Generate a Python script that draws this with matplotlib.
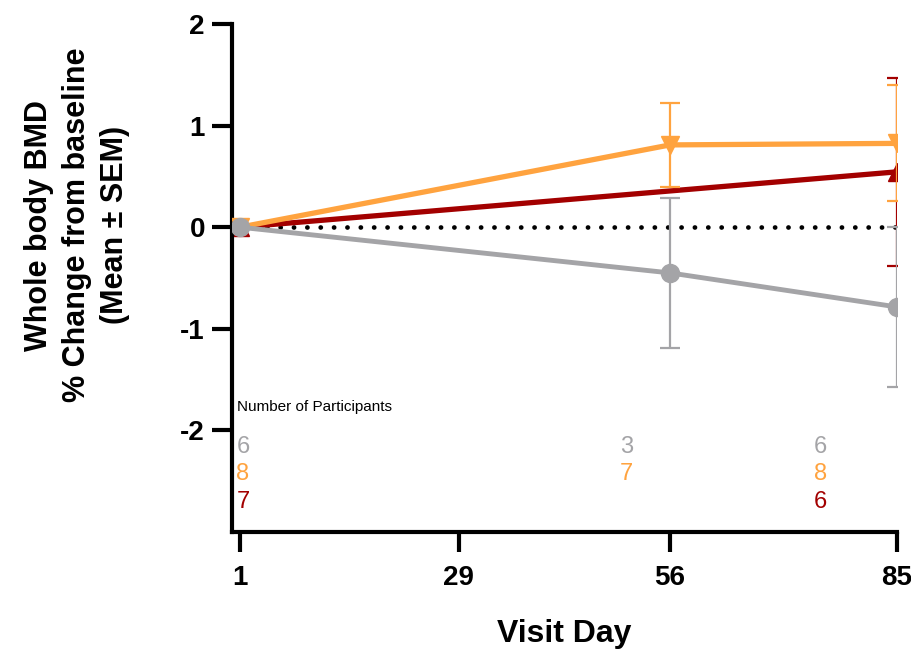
import matplotlib
matplotlib.use("Agg")
import matplotlib.pyplot as plt

plt.rcParams['font.family'] = ['Liberation Sans', 'DejaVu Sans']
plt.rcParams['axes.unicode_minus'] = False

# visit days and series (mean % change, SEM)
days = [1, 56, 85]
gray_mean = [0.0, -0.45, -0.785]
gray_sem = [0.0, 0.735, 0.785]
orange_mean = [0.0, 0.81, 0.825]
orange_sem = [0.0, 0.41, 0.57]
red_days = [1, 85]
red_mean = [0.0, 0.545]
red_sem = [0.0, 0.925]

# number of participants per visit (gray, orange, red)
n_gray = ['6', '3', '6']
n_orange = ['8', '7', '8']
n_red = ['7', '', '6']
n_xpos = [1.4, 50.4, 75.2]   # where the count columns sit (day units)

xticks = [1, 29, 56, 85]
yticks = [-2, -1, 0, 1, 2]

c_gray = '#A4A4A7'
c_orange = '#FFA33F'
c_red = '#A30000'

fig = plt.figure(figsize=(9.12, 6.54), dpi=100)
ax = fig.add_axes([232/912, 1-532/654, (897-232)/912, (532-24)/654])

# zero reference line, dots about 13 px apart
zl, = ax.plot([1, 85], [0, 0], color='black', lw=3.4, dash_capstyle='round', zorder=1)
zl.set_dashes([0.03, 2.8])

ax.errorbar(red_days, red_mean, yerr=red_sem, color=c_red, lw=3.8,
            marker='^', ms=13, elinewidth=1.6, capsize=7, capthick=1.6, zorder=2)
ax.errorbar(days, orange_mean, yerr=orange_sem, color=c_orange, lw=3.8,
            marker='v', ms=13, elinewidth=1.6, capsize=7, capthick=1.6, zorder=3)
ax.errorbar(days, gray_mean, yerr=gray_sem, color=c_gray, lw=3.5,
            marker='o', ms=13, elinewidth=1.6, capsize=7, capthick=1.6, zorder=4)

# participant counts
ax.text(0.6, -1.77, 'Number of Participants', fontsize=11, ha='left', va='center')
for col, (g, o, r) in enumerate(zip(n_gray, n_orange, n_red)):
    x = n_xpos[col]
    ax.text(x, -2.16, g, color=c_gray, fontsize=17, ha='center', va='center')
    ax.text(x, -2.43, o, color=c_orange, fontsize=17, ha='center', va='center')
    ax.text(x, -2.70, r, color=c_red, fontsize=17, ha='center', va='center')

ax.set_xlim(0, 85)
ax.set_ylim(-3, 2)
ax.set_xticks(xticks)
ax.set_yticks(yticks)

for s in ['top', 'right']:
    ax.spines[s].set_visible(False)
for s in ['left', 'bottom']:
    ax.spines[s].set_linewidth(3)

ax.tick_params(axis='both', direction='out', length=14.5, width=3)
ax.tick_params(axis='x', labelsize=20, pad=9)
ax.tick_params(axis='y', labelsize=20, pad=5)
for lab in ax.get_xticklabels() + ax.get_yticklabels():
    lab.set_fontweight('bold')

ax.set_xlabel('Visit Day', fontsize=23, fontweight='bold', va='center')
ax.xaxis.set_label_coords(0.5, -0.2)
ax.set_ylabel('Whole body BMD\n% Change from baseline\n(Mean ± SEM)',
              fontsize=22, fontweight='bold', linespacing=1.33,
              ha='center', va='center')
ax.yaxis.set_label_coords(-0.233, 0.604)

fig.savefig('out.png', dpi=100)
